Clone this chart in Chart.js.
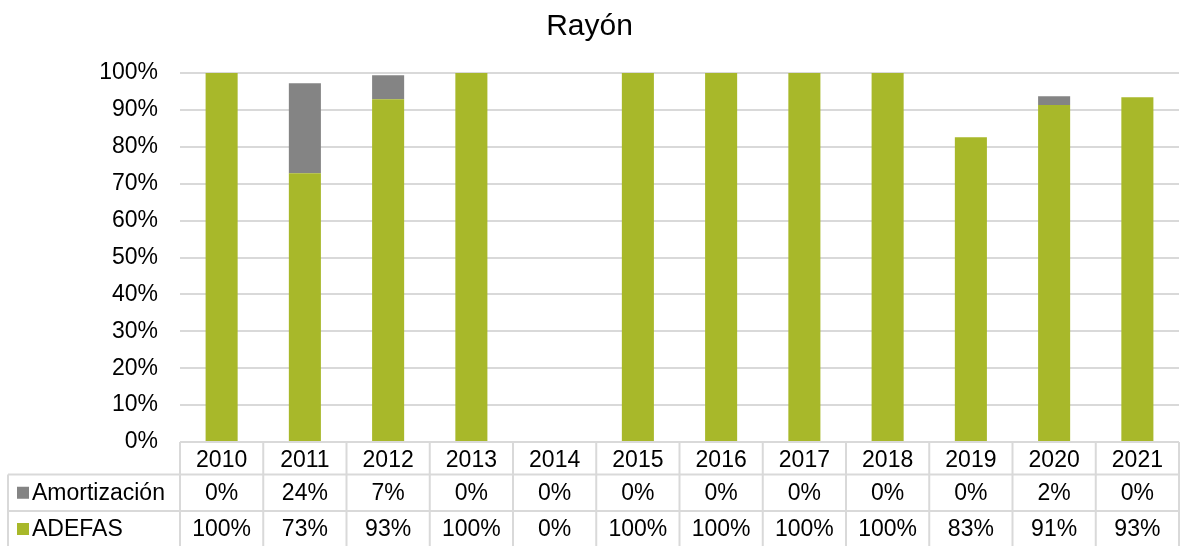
<!DOCTYPE html>
<html>
<head>
<meta charset="utf-8">
<script src="https://cdn.jsdelivr.net/npm/chart.js@4/dist/chart.umd.min.js"></script>
<style>
html,body{margin:0;padding:0;background:#fff;}
#c{display:block;}
</style>
</head>
<body>
<canvas id="c" width="1180" height="546"></canvas>
<script>
const titleText = 'Rayón';
const categories = ['2010','2011','2012','2013','2014','2015','2016','2017','2018','2019','2020','2021'];
const seriesNames = ['Amortización','ADEFAS'];
const adefas = [100, 72.8, 92.9, 100, 0, 100, 100, 100, 100, 82.6, 91.3, 93.4];
const amortizacion = [0, 24.4, 6.5, 0, 0, 0, 0, 0, 0, 0, 2.4, 0];
const yTicks = [0,10,20,30,40,50,60,70,80,90,100];

const GREEN = '#a8b82a';
const GRAY = '#848484';
const LINE = '#d9d9d9';
const FONT = "'Liberation Sans', Arial, sans-serif";

const tablePlugin = {
  id: 'dataTable',
  afterDraw(chart) {
    const ctx = chart.ctx;
    const x = chart.scales.x;
    const area = chart.chartArea;
    const n = categories.length;
    const colW = (x.getPixelForValue(1) - x.getPixelForValue(0));
    const top = area.bottom;
    const r1 = top + 32.5;
    const r2 = r1 + 36.5;
    const bottom = r2 + 36;
    const leftEdge = 8;
    ctx.save();
    ctx.strokeStyle = LINE;
    ctx.lineWidth = 2;
    ctx.beginPath();
    ctx.moveTo(area.left, top); ctx.lineTo(area.right, top);
    ctx.moveTo(leftEdge, r1); ctx.lineTo(area.right, r1);
    ctx.moveTo(leftEdge, r2); ctx.lineTo(area.right, r2);
    ctx.moveTo(leftEdge, bottom); ctx.lineTo(area.right, bottom);
    for (let i = 0; i <= n; i++) {
      const px = x.getPixelForValue(0) - colW / 2 + i * colW;
      ctx.moveTo(px, top); ctx.lineTo(px, bottom);
    }
    ctx.moveTo(leftEdge, r1); ctx.lineTo(leftEdge, bottom);
    ctx.stroke();

    ctx.font = '23px ' + FONT;
    ctx.fillStyle = '#000';
    ctx.textBaseline = 'middle';
    const rows = [amortizacion, adefas];
    const rowY = [(r1 + r2) / 2 + 1, (r2 + bottom) / 2 + 1];
    const colors = [GRAY, GREEN];
    rows.forEach((vals, ri) => {
      ctx.textAlign = 'center';
      vals.forEach((v, i) => {
        ctx.fillText(Math.round(v) + '%', x.getPixelForValue(i), rowY[ri]);
      });
      ctx.fillStyle = colors[ri];
      ctx.fillRect(17, rowY[ri] - 7, 12, 12);
      ctx.fillStyle = '#000';
      ctx.textAlign = 'left';
      ctx.fillText(seriesNames[ri], 32, rowY[ri]);
    });
    ctx.restore();
  }
};

new Chart(document.getElementById('c'), {
  type: 'bar',
  data: {
    labels: categories,
    datasets: [
      { label: seriesNames[1], data: adefas, backgroundColor: GREEN, categoryPercentage: 1, barPercentage: 0.385 },
      { label: seriesNames[0], data: amortizacion, backgroundColor: GRAY, categoryPercentage: 1, barPercentage: 0.385 }
    ]
  },
  options: {
    responsive: false,
    animation: false,
    devicePixelRatio: 1,
    layout: { padding: { left: 0, right: 1, top: 0, bottom: 0 } },
    plugins: {
      legend: { display: false },
      tooltip: { enabled: false },
      title: {
        display: true,
        text: titleText,
        color: '#000',
        font: { family: FONT, size: 30, weight: 'normal', lineHeight: 1.2 },
        padding: { top: 9, bottom: 28 }
      }
    },
    scales: {
      x: {
        stacked: true,
        grid: { display: false, drawTicks: false },
        border: { display: false },
        ticks: { color: '#000', font: { family: FONT, size: 23 }, padding: 5, maxRotation: 0, autoSkip: false },
        afterFit(s) { s.height = 104; }
      },
      y: {
        stacked: true,
        min: 0, max: 100,
        afterBuildTicks(s) { s.ticks = yTicks.map(v => ({ value: v })); },
        grid: { color: LINE, lineWidth: 2, drawTicks: false },
        border: { display: false },
        ticks: { color: '#000', font: { family: FONT, size: 23 }, padding: 22, callback: v => v + '%' },
        afterFit(s) { s.width = 180; }
      }
    }
  },
  plugins: [tablePlugin]
});
</script>
</body>
</html>
